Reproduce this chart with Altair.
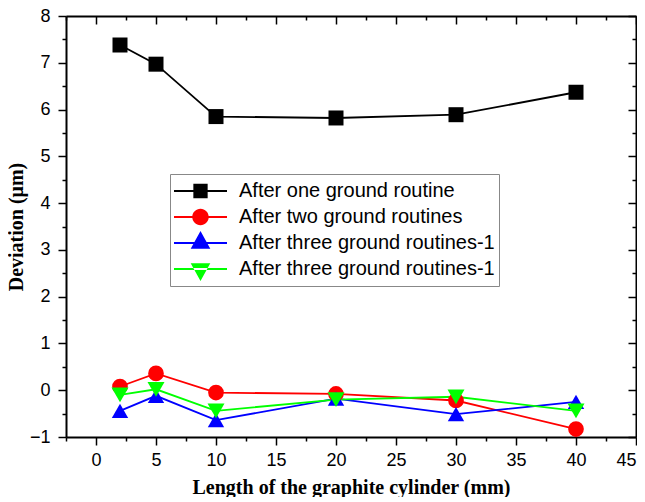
import altair as alt
import pandas as pd

# ---- data ----
x_mm = [2, 5, 10, 20, 30, 40]
series_keys = ["s1", "s2", "s3", "s4"]
series_labels = [
    "After one ground routine",
    "After two ground routines",
    "After three ground routines-1",
    "After three ground routines-1",
]
one_ground = [7.38, 6.97, 5.85, 5.82, 5.89, 6.37]
two_ground = [0.08, 0.36, -0.05, -0.08, -0.22, -0.83]
three_ground_a = [-0.44, -0.12, -0.64, -0.18, -0.51, -0.25]
three_ground_b = [-0.10, 0.02, -0.44, -0.20, -0.14, -0.44]

colors = ["#000000", "#ff0000", "#0000ff", "#00ff00"]
point_shapes = ["square", "circle", "triangle-up", "triangle-down"]
point_sizes = [225, 289, 361, 361]

x_tick_values = [-2.5, 0, 2.5, 5, 7.5, 10, 12.5, 15, 17.5, 20, 22.5, 25, 27.5,
                 30, 32.5, 35, 37.5, 40, 42.5, 45]
y_tick_values = [-1, -0.5, 0, 0.5, 1, 1.5, 2, 2.5, 3, 3.5, 4, 4.5, 5, 5.5,
                 6, 6.5, 7, 7.5, 8]

# legend symbols: a line with the marker on it
legend_line = "M-1,-0.04H1V0.04H-1Z "
legend_shapes = [
    legend_line + "M-0.27,-0.27H0.27V0.27H-0.27Z",
    legend_line + "M-0.31,0A0.31,0.31,0,1,1,0.31,0A0.31,0.31,0,1,1,-0.31,0Z",
    legend_line + "M0,-0.45L0.37,0.22L-0.37,0.22Z",
    legend_line + "M0,0.45L0.37,-0.22L-0.37,-0.22Z",
]

rows = []
for key, vals in zip(series_keys, [one_ground, two_ground, three_ground_a, three_ground_b]):
    for xv, yv in zip(x_mm, vals):
        rows.append({"x": xv, "y": yv, "series": key})
df = pd.DataFrame(rows)

W, H = 570, 421

xscale = alt.Scale(domain=[-2.5, 45], nice=False, zero=False)
yscale = alt.Scale(domain=[-1, 8], nice=False, zero=False)
cscale = alt.Scale(domain=series_keys, range=colors)

x_major = {"condition": {"test": "datum.value % 5 === 0", "value": 8}, "value": 4}
y_major = {"condition": {"test": "datum.value % 1 === 0", "value": 8}, "value": 4}

axis_common = dict(grid=False, domainColor="black", domainWidth=2,
                   tickColor="black", tickWidth=1.5)

x_axis = alt.Axis(orient="bottom", values=x_tick_values, tickSize=x_major,
                  labelExpr="(datum.value % 5 === 0 && datum.value >= 0) ? format(datum.value, 'd') : ''",
                  labelFont="Liberation Sans", labelFontSize=18, labelPadding=6,
                  labelColor="black",
                  title="Length of the graphite cylinder (mm)",
                  titleFont="Liberation Serif", titleFontSize=20, titleFontWeight="bold",
                  titleColor="black", titlePadding=8, **axis_common)
y_axis = alt.Axis(orient="left", values=y_tick_values, tickSize=y_major,
                  labelExpr="(datum.value % 1 === 0) ? format(datum.value, 'd') : ''",
                  labelFont="Liberation Sans", labelFontSize=18, labelPadding=8,
                  labelColor="black",
                  title="Deviation (μm)",
                  titleFont="Liberation Serif", titleFontSize=20, titleFontWeight="bold",
                  titleColor="black", titlePadding=3, **axis_common)

lines = alt.Chart(df).mark_line(strokeWidth=1.8).encode(
    x=alt.X("x:Q", scale=xscale, axis=x_axis),
    y=alt.Y("y:Q", scale=yscale, axis=y_axis),
    color=alt.Color("series:N", scale=cscale, legend=None),
    detail="series:N",
)

points = alt.Chart(df).mark_point(filled=True, opacity=1, strokeWidth=0).encode(
    x=alt.X("x:Q", scale=xscale, axis=None),
    y=alt.Y("y:Q", scale=yscale, axis=None),
    color=alt.Color("series:N", scale=cscale, legend=None),
    shape=alt.Shape("series:N", scale=alt.Scale(domain=series_keys, range=point_shapes), legend=None),
    size=alt.Size("series:N", scale=alt.Scale(domain=series_keys, range=point_sizes), legend=None),
)

top_axis = alt.Chart(df).mark_point(opacity=0).encode(
    x=alt.X("x:Q", scale=xscale,
            axis=alt.Axis(orient="bottom", offset=-H, values=x_tick_values, tickSize=x_major,
                          labels=False, title=None, **axis_common)),
)
right_axis = alt.Chart(df).mark_point(opacity=0).encode(
    y=alt.Y("y:Q", scale=yscale,
            axis=alt.Axis(orient="left", offset=-W, values=y_tick_values, tickSize=y_major,
                          labels=False, title=None, **axis_common)),
)

label_expr = ("[" + ",".join("'" + s + "'" for s in series_labels) + "]"
              "[indexof([" + ",".join("'" + k + "'" for k in series_keys) + "], datum.value)]")
legend = alt.Legend(
    title=None, orient="none", legendX=104, legendY=158,
    labelExpr=label_expr, labelFont="Liberation Sans", labelFontSize=20,
    labelColor="black", labelOffset=12, labelLimit=0, symbolSize=2809, symbolStrokeWidth=0,
    symbolOpacity=1, clipHeight=26, rowPadding=0, padding=4,
    strokeColor="#888888", fillColor="white",
)
legend_layer = alt.Chart(df).mark_point(filled=True, strokeWidth=0).encode(
    color=alt.Color("series:N", scale=cscale, legend=legend),
    shape=alt.Shape("series:N", scale=alt.Scale(domain=series_keys, range=legend_shapes), legend=legend),
).transform_filter("false")

chart = alt.layer(lines, points, top_axis, right_axis, legend_layer).resolve_axis(
    x="independent", y="independent"
).resolve_scale(
    color="independent", shape="independent", size="independent"
).resolve_legend(
    color="independent", shape="independent"
).properties(
    width=W, height=H,
    autosize=alt.AutoSizeParams(type="none"),
    padding={"left": 58, "top": 8, "right": 1, "bottom": 60},
).configure_view(stroke=None)

chart.save("out.html", embed_options={"renderer": "svg", "actions": False})
